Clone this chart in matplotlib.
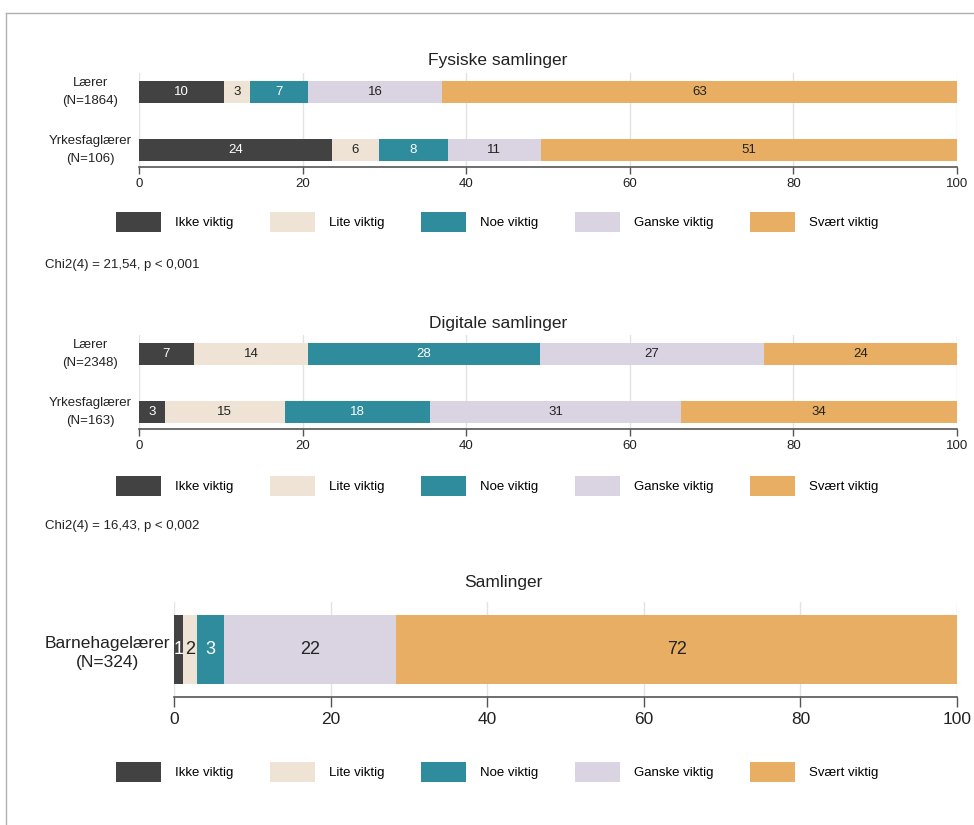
import matplotlib
matplotlib.use("Agg")
import matplotlib.pyplot as plt
from matplotlib.lines import Line2D
from matplotlib.patches import Patch
from matplotlib.transforms import ScaledTranslation
import numpy as np

plt.rcParams['font.family'] = ['Liberation Sans', 'DejaVu Sans']

# Response categories and colours
categories = ["Ikke viktig", "Lite viktig", "Noe viktig", "Ganske viktig", "Svært viktig"]
colors = ["#424242", "#eee3d4", "#2e8c9c", "#dad3e1", "#e8ae63"]
label_colors = ["white", "#222222", "white", "#222222", "#222222"]

# Fysiske samlinger (percent)
fys_groups = ["Lærer\n(N=1864)", "Yrkesfaglærer\n(N=106)"]
fys_laerer = [10.4, 3.2, 7.1, 16.3, 63.0]
fys_yrkes = [23.6, 5.7, 8.5, 11.3, 50.9]

# Digitale samlinger (percent)
dig_groups = ["Lærer\n(N=2348)", "Yrkesfaglærer\n(N=163)"]
dig_laerer = [6.7, 14.0, 28.3, 27.4, 23.6]
dig_yrkes = [3.2, 14.6, 17.8, 30.7, 33.7]

# Samlinger, barnehagelærere (percent)
bhg_groups = ["Barnehagelærer\n(N=324)"]
bhg = [1.1, 1.9, 3.4, 22.0, 71.6]

titles = ["Fysiske samlinger", "Digitale samlinger", "Samlinger"]
chi_texts = ["Chi2(4) = 21,54, p < 0,001", "Chi2(4) = 16,43, p < 0,002"]
xticks = [0, 20, 40, 60, 80, 100]

W, H = 974, 825
fig = plt.figure(figsize=(W / 100, H / 100), dpi=100)


def fx(px):
    return px / W


def fy(py):
    return 1 - py / H


def stacked(ax, groups, rows, ypos, height, fs_tick, fs_lab, lsp, ha, pad_pt, dy_px):
    for gi, (vals, y) in enumerate(zip(rows, ypos)):
        left = 0.0
        for ci, v in enumerate(vals):
            ax.barh(y, v, left=left, height=height, color=colors[ci],
                    edgecolor="none", zorder=2)
            ax.text(left + v / 2, y, "%.0f" % v, ha="center", va="center",
                    color=label_colors[ci], fontsize=fs_lab, zorder=3)
            left += v
    ax.set_xlim(0, 100)
    ax.set_xticks(xticks)
    ax.set_yticks(ypos)
    ax.set_yticklabels(groups)
    ax.tick_params(axis="y", length=0, labelsize=fs_tick, pad=pad_pt, colors="#222222")
    ax.tick_params(axis="x", length=5, width=1, colors="#555555",
                   labelcolor="#222222", labelsize=fs_tick, pad=3)
    shift = ScaledTranslation(0, dy_px / 100, fig.dpi_scale_trans)
    for lab in ax.get_yticklabels():
        lab.set_horizontalalignment(ha)
        lab.set_multialignment("center")
        lab.set_linespacing(lsp)
        lab.set_transform(lab.get_transform() + shift)
    for s in ["top", "right", "left"]:
        ax.spines[s].set_visible(False)
    ax.spines["bottom"].set_color("#555555")
    ax.spines["bottom"].set_linewidth(1.2)
    ax.grid(axis="x", color="#e3e3e3", linewidth=1, zorder=0)
    ax.set_axisbelow(True)


def legend(y):
    handles = [Patch(facecolor=c, edgecolor="none") for c in colors]
    fig.legend(handles, categories, loc="center", bbox_to_anchor=(fx(497), y),
               ncol=5, frameon=False, fontsize=9.5, handlelength=3.4,
               handleheight=1.9, handletextpad=1.05, columnspacing=2.8)


# Panel 1
ax1 = fig.add_axes([fx(139), fy(167), fx(957 - 139), 94 / H])
stacked(ax1, fys_groups, [fys_laerer, fys_yrkes], [1, 0], 22 / 58, 9.5, 9.5,
        1.7, "center", (139 - 90) * 0.72, 4.5)
ax1.set_ylim(-17 / 58, 1 + 19 / 58)
fig.text(fx(498), fy(60), titles[0], ha="center", va="center", fontsize=12.5,
         color="#222222")
legend(fy(222))
fig.text(fx(45), fy(265), chi_texts[0], ha="left", va="center", fontsize=9.5,
         color="#222222")

# Panel 2
ax2 = fig.add_axes([fx(139), fy(429), fx(957 - 139), 94 / H])
stacked(ax2, dig_groups, [dig_laerer, dig_yrkes], [1, 0], 22 / 58, 9.5, 9.5,
        1.7, "center", (139 - 90) * 0.72, 4.5)
ax2.set_ylim(-17 / 58, 1 + 19 / 58)
fig.text(fx(498), fy(323), titles[1], ha="center", va="center", fontsize=12.5,
         color="#222222")
legend(fy(486))
fig.text(fx(45), fy(526), chi_texts[1], ha="left", va="center", fontsize=9.5,
         color="#222222")

# Panel 3
ax3 = fig.add_axes([fx(174), fy(697), fx(957 - 174), 95 / H])
stacked(ax3, bhg_groups, [bhg], [0], 69 / 95, 12.5, 13,
        1.35, "right", 3, 0)
ax3.set_ylim(-0.5, 0.5)
ax3.tick_params(axis="x", length=7, pad=4)
fig.text(fx(503), fy(583), titles[2], ha="center", va="center", fontsize=12.5,
         color="#222222")
legend(fy(772))

# Frame lines along the top and left edge
fig.add_artist(Line2D([fx(6), 1], [fy(13), fy(13)], transform=fig.transFigure,
                      color="#b0b0b0", linewidth=1))
fig.add_artist(Line2D([fx(6), fx(6)], [0, fy(13)], transform=fig.transFigure,
                      color="#b0b0b0", linewidth=1))

fig.savefig("out.png", dpi=100, facecolor="white")
